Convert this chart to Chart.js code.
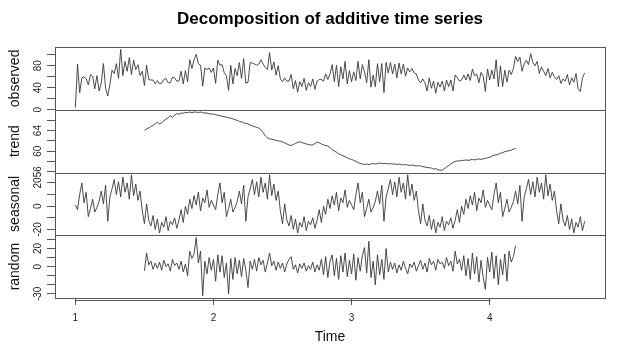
<!DOCTYPE html>
<html>
<head>
<meta charset="utf-8">
<script src="https://cdn.jsdelivr.net/npm/chart.js@4.4.1/dist/chart.umd.min.js"></script>
<style>
  html, body { margin: 0; padding: 0; background: #fff; }
  #wrap { width: 625px; height: 349px; }
</style>
</head>
<body>
<div id="wrap"><canvas id="c" width="625" height="349"></canvas></div>
<script>
// Time series layout: start of the series and number of observations per unit of time
const tsStart = 1;
const tsFrequency = 64;
// The centred moving average (trend) and the remainder lose half a period at each end
const trendOffset = 32;

const observed = [
  4, 83, 31, 58, 60, 56, 45, 64, 61, 38, 62, 34, 48, 84, 39, 25, 45, 72, 66, 84,
  57, 110, 62, 88, 70, 95, 64, 90, 73, 82, 62, 70,
  44, 81, 55, 54, 54, 47, 53, 47, 48, 55, 57, 49, 49, 59, 58, 52, 52, 70, 47, 71,
  51, 91, 75, 91, 101, 84, 81, 43, 76, 73, 76, 68, 76, 48, 90, 81, 82, 67, 62, 35,
  81, 47, 75, 62, 86, 57, 93, 48, 50, 86, 85, 83, 81, 83, 91, 83, 77, 73, 104, 72,
  87, 63, 80, 56, 51, 58, 52, 52, 64, 38, 53, 32, 51, 42, 57, 35, 49, 42, 56, 37,
  52, 55, 55, 52, 65, 55, 65, 82, 51, 81, 42, 78, 56, 88, 47, 71, 51, 69, 53, 88,
  56, 82, 69, 49, 91, 41, 63, 42, 84, 51, 84, 31, 86, 67, 86, 65, 83, 58, 85, 65,
  83, 61, 76, 69, 75, 67, 65, 54, 49, 56, 49, 34, 58, 39, 52, 30, 50, 41, 52, 34,
  54, 42, 54, 34, 63, 58, 52, 54, 63, 54, 65, 53, 74, 62, 65, 49, 68, 61, 33, 74,
  54, 72, 56, 91, 42, 80, 42, 72, 50, 72, 64, 75, 97,
  88, 96, 70, 84, 90, 82, 102, 86, 80, 88, 66, 78, 70, 62, 75, 58, 68, 60, 55, 62,
  48, 56, 52, 64, 45, 58, 50, 66, 38, 33, 58, 67
];

const trend = [
  64.1, 64.3, 64.5, 64.8, 65.0, 65.3, 65.6, 65.3, 65.5, 65.9,
  66.2, 66.5, 66.9, 66.6, 67.0, 67.3, 67.2, 67.4, 67.4, 67.5,
  67.5, 67.6, 67.5, 67.6, 67.6, 67.5, 67.6, 67.5, 67.4, 67.4,
  67.3, 67.2, 67.2, 67.1, 67.0, 66.9, 66.8, 66.7, 66.6, 66.5,
  66.4, 66.3, 66.1, 66.0, 65.8, 65.7, 65.5, 65.4, 65.3, 65.1,
  64.9, 64.8, 64.6, 64.5, 64.1, 63.6, 63.0, 62.6, 62.4, 62.3,
  62.2, 62.1, 62.0, 61.9, 61.8, 61.6, 61.4, 61.2, 61.1, 61.3,
  61.5, 61.7, 61.8, 61.7, 61.5, 61.4, 61.3, 61.2, 61.2, 61.5,
  61.8, 61.6, 61.4, 61.2, 61.1, 61.0, 60.7, 60.3, 60.0, 59.8,
  59.5, 59.3, 59.1, 58.9, 58.7, 58.5, 58.4, 58.2, 58.0, 57.8,
  57.6, 57.5, 57.4, 57.5, 57.4, 57.5, 57.6, 57.5, 57.6, 57.7,
  57.6, 57.6, 57.6, 57.5, 57.6, 57.5, 57.5, 57.4, 57.5, 57.4,
  57.3, 57.4, 57.3, 57.2, 57.3, 57.2, 57.1, 57.2, 57.1, 57.0,
  56.9, 56.8, 56.8, 56.7, 56.5, 56.6, 56.4, 56.3, 56.3, 56.6,
  56.9, 57.2, 57.5, 57.8, 58.0, 58.1, 58.1, 58.2, 58.2, 58.3,
  58.2, 58.3, 58.4, 58.3, 58.4, 58.5, 58.4, 58.5, 58.6, 58.7,
  58.8, 59.0, 59.2, 59.3, 59.4, 59.6, 59.7, 59.9, 60.0, 60.1,
  60.2, 60.4, 60.5
];

const seasonal = [
  1, -3, 10, 20, 3, 12, -9, -2, 6, -5, -1, 4, 13, 2, 18, -13, 8, 15, 23, 10,
  21, 8, 25, 12, 20, 6, 27, 9, 19, 5, 13, -4, -15, 2, -12, -17, -8, -20, -11, -23,
  -14, -18, -9, -21, -13, -16, -10, -19, -12, -3, -14, 0, -7, 6, -2, 9, 1, 12, -4, 7,
  3, 14, -1, 5,
  1, -3, 10, 20, 3, 12, -9, -2, 6, -5, -1, 4, 13, 2, 18, -13, 8, 15, 23, 10,
  21, 8, 25, 12, 20, 6, 27, 9, 19, 5, 13, -4, -15, 2, -12, -17, -8, -20, -11, -23,
  -14, -18, -9, -21, -13, -16, -10, -19, -12, -3, -14, 0, -7, 6, -2, 9, 1, 12, -4, 7,
  3, 14, -1, 5,
  1, -3, 10, 20, 3, 12, -9, -2, 6, -5, -1, 4, 13, 2, 18, -13, 8, 15, 23, 10,
  21, 8, 25, 12, 20, 6, 27, 9, 19, 5, 13, -4, -15, 2, -12, -17, -8, -20, -11, -23,
  -14, -18, -9, -21, -13, -16, -10, -19, -12, -3, -14, 0, -7, 6, -2, 9, 1, 12, -4, 7,
  3, 14, -1, 5,
  1, -3, 10, 20, 3, 12, -9, -2, 6, -5, -1, 4, 13, 2, 18, -13, 8, 15, 23, 10,
  21, 8, 25, 12, 20, 6, 27, 9, 19, 5, 13, -4, -15, 2, -12, -17, -8, -20, -11, -23,
  -14, -18, -9, -21, -13
];

const random = [
  -4.6, 15, 2, 6, -3, 4, -2, 5, -4, 7,
  0, 3, -5, 8, 1, 4, -3, 6, -6, 3,
  -10, 17, 9, 14, 32, 4, 17, -32, 6, -8,
  10, -4, 8, -16, 13, -6, 12, -12, 4, -30,
  9, -14, 10, -8, 7, -11, 9, -4, -23, 6,
  -3, 8, -5, 10, 2, 7, -6, 4, 15, 1,
  6, -4, 5, -2, 4, -6, 3, 8, 11, -3,
  2, -7, 3, -2, 4, -5, 1, -3, 5, -6,
  2, -4, 8, -9, 11, -12, 6, 13, -10, 9,
  -14, 12, -6, 15, -11, 7, -8, 14, -15, 10,
  -5, 12, 21, -7, 28, -12, 6, -20, 13, -9,
  8, -14, 20, -6, 5, -3, 4, -7, 2, -4,
  6, -2, -8, 3, -1, 5, -5, 1, 7, -3,
  4, -6, 9, 2, 6, -4, 8, 3, 5, -2,
  10, 1, 6, -5, 17, 3, 8, -4, 12, -10,
  9, -14, 15, -8, 11, -17, 7, -12, -25, 10,
  -6, 16, -13, 12, -20, 8, -9, 14, -16, 17,
  5, 11, 23
];

// Axis ticks and the subset of them that carry a label
const timeTicks = [1, 2, 3, 4];
const observedTicks = [0, 20, 40, 60, 80, 100];
const observedTickLabels = [0, 40, 80];
const trendTicks = [56, 58, 60, 62, 64, 66];
const trendTickLabels = [56, 60, 64];
const seasonalTicks = [-20, -10, 0, 10, 20];
const seasonalTickLabels = [-20, 0, 20];
const randomTicks = [-30, -20, -10, 0, 10, 20, 30];
const randomTickLabels = [-30, 0, 20];

Chart.defaults.font.family = "'Liberation Sans', Arial, Helvetica, sans-serif";
Chart.defaults.color = '#111';

function toPoints(values, offset) {
  return values.map((v, i) => ({ x: tsStart + (offset + i) / tsFrequency, y: v }));
}

// Axis limits extended by 4% of the data range on each side
function paddedRange(values) {
  const lo = Math.min(...values), hi = Math.max(...values);
  const pad = (hi - lo) * 0.04;
  return { min: lo - pad, max: hi + pad };
}

function panelAxis(title, values, ticks, labels, weight, labelPadding) {
  const r = paddedRange(values);
  return {
    type: 'linear',
    position: 'left',
    stack: 'panels',
    stackWeight: 1,
    weight: weight,
    min: r.min,
    max: r.max,
    afterBuildTicks: s => { s.ticks = ticks.map(v => ({ value: v })); },
    afterFit: s => { s.width = 55; },
    grid: { drawOnChartArea: false, drawTicks: true, tickLength: 8, tickColor: '#555', tickWidth: 1 },
    border: { display: false },
    ticks: {
      autoSkip: false,
      minRotation: 90,
      maxRotation: 90,
      crossAlign: 'center',
      padding: labelPadding,
      font: { size: 10 },
      color: '#222',
      callback: v => labels.includes(v) ? String(v) : ''
    },
    title: { display: true, text: title, font: { size: 14 }, color: '#111', padding: { top: 7, bottom: 0 } }
  };
}

const timeValues = observed.map((v, i) => tsStart + i / tsFrequency);
const xRange = paddedRange(timeValues);

// Draws a frame round each panel and the time axis line between its outer ticks
const panelFrames = {
  id: 'panelFrames',
  afterDatasetsDraw(chart) {
    const { ctx, chartArea: a, scales } = chart;
    ctx.save();
    ctx.strokeStyle = '#555';
    ctx.lineWidth = 1;
    ['yObserved', 'yTrend', 'ySeasonal', 'yRandom'].forEach(id => {
      const s = scales[id];
      const left = Math.round(a.left) + 0.5;
      const top = Math.round(s.top) + 0.5;
      const w = Math.round(a.right) - Math.round(a.left);
      const h = Math.round(s.bottom) - Math.round(s.top);
      ctx.strokeRect(left, top, w, h);
    });
    const x = scales.x;
    const y = Math.round(a.bottom) + 2.5;
    ctx.beginPath();
    ctx.moveTo(Math.round(x.getPixelForValue(timeTicks[0])) + 0.5, y);
    ctx.lineTo(Math.round(x.getPixelForValue(timeTicks[timeTicks.length - 1])) + 0.5, y);
    ctx.stroke();
    ctx.restore();
  }
};

const lineStyle = { borderColor: '#383838', borderWidth: 0.9, pointRadius: 0, tension: 0, fill: false, spanGaps: false };

new Chart(document.getElementById('c'), {
  type: 'line',
  data: {
    datasets: [
      Object.assign({ label: 'observed', data: toPoints(observed, 0), yAxisID: 'yObserved' }, lineStyle),
      Object.assign({ label: 'trend', data: toPoints(trend, trendOffset), yAxisID: 'yTrend' }, lineStyle),
      Object.assign({ label: 'seasonal', data: toPoints(seasonal, 0), yAxisID: 'ySeasonal' }, lineStyle),
      Object.assign({ label: 'random', data: toPoints(random, trendOffset), yAxisID: 'yRandom' }, lineStyle)
    ]
  },
  options: {
    responsive: false,
    animation: false,
    devicePixelRatio: 1,
    parsing: false,
    normalized: true,
    layout: { padding: { left: 0, right: 20, top: 0, bottom: 0 } },
    plugins: {
      legend: { display: false },
      tooltip: { enabled: false },
      title: {
        display: true,
        text: 'Decomposition of additive time series',
        fullSize: false,
        color: '#000',
        font: { size: 17, weight: 'bold' },
        padding: { top: 9, bottom: 17.6 }
      }
    },
    scales: {
      x: {
        type: 'linear',
        position: 'bottom',
        min: xRange.min,
        max: xRange.max,
        afterBuildTicks: s => { s.ticks = timeTicks.map(v => ({ value: v })); },
        afterFit: s => { s.height = 51; },
        grid: { drawOnChartArea: false, tickLength: 7, tickColor: '#555', tickWidth: 1 },
        border: { display: false },
        ticks: { autoSkip: false, maxRotation: 0, padding: 7, font: { size: 10 }, color: '#222' },
        title: { display: true, text: 'Time', font: { size: 14 }, color: '#111', padding: { top: 0, bottom: 3 } }
      },
      yRandom: panelAxis('random', random, randomTicks, randomTickLabels, 1, 2),
      ySeasonal: panelAxis('seasonal', seasonal, seasonalTicks, seasonalTickLabels, 2, 2),
      yTrend: panelAxis('trend', trend, trendTicks, trendTickLabels, 3, 3.5),
      yObserved: panelAxis('observed', observed, observedTicks, observedTickLabels, 4, 3.5)
    }
  },
  plugins: [panelFrames]
});
</script>
</body>
</html>
